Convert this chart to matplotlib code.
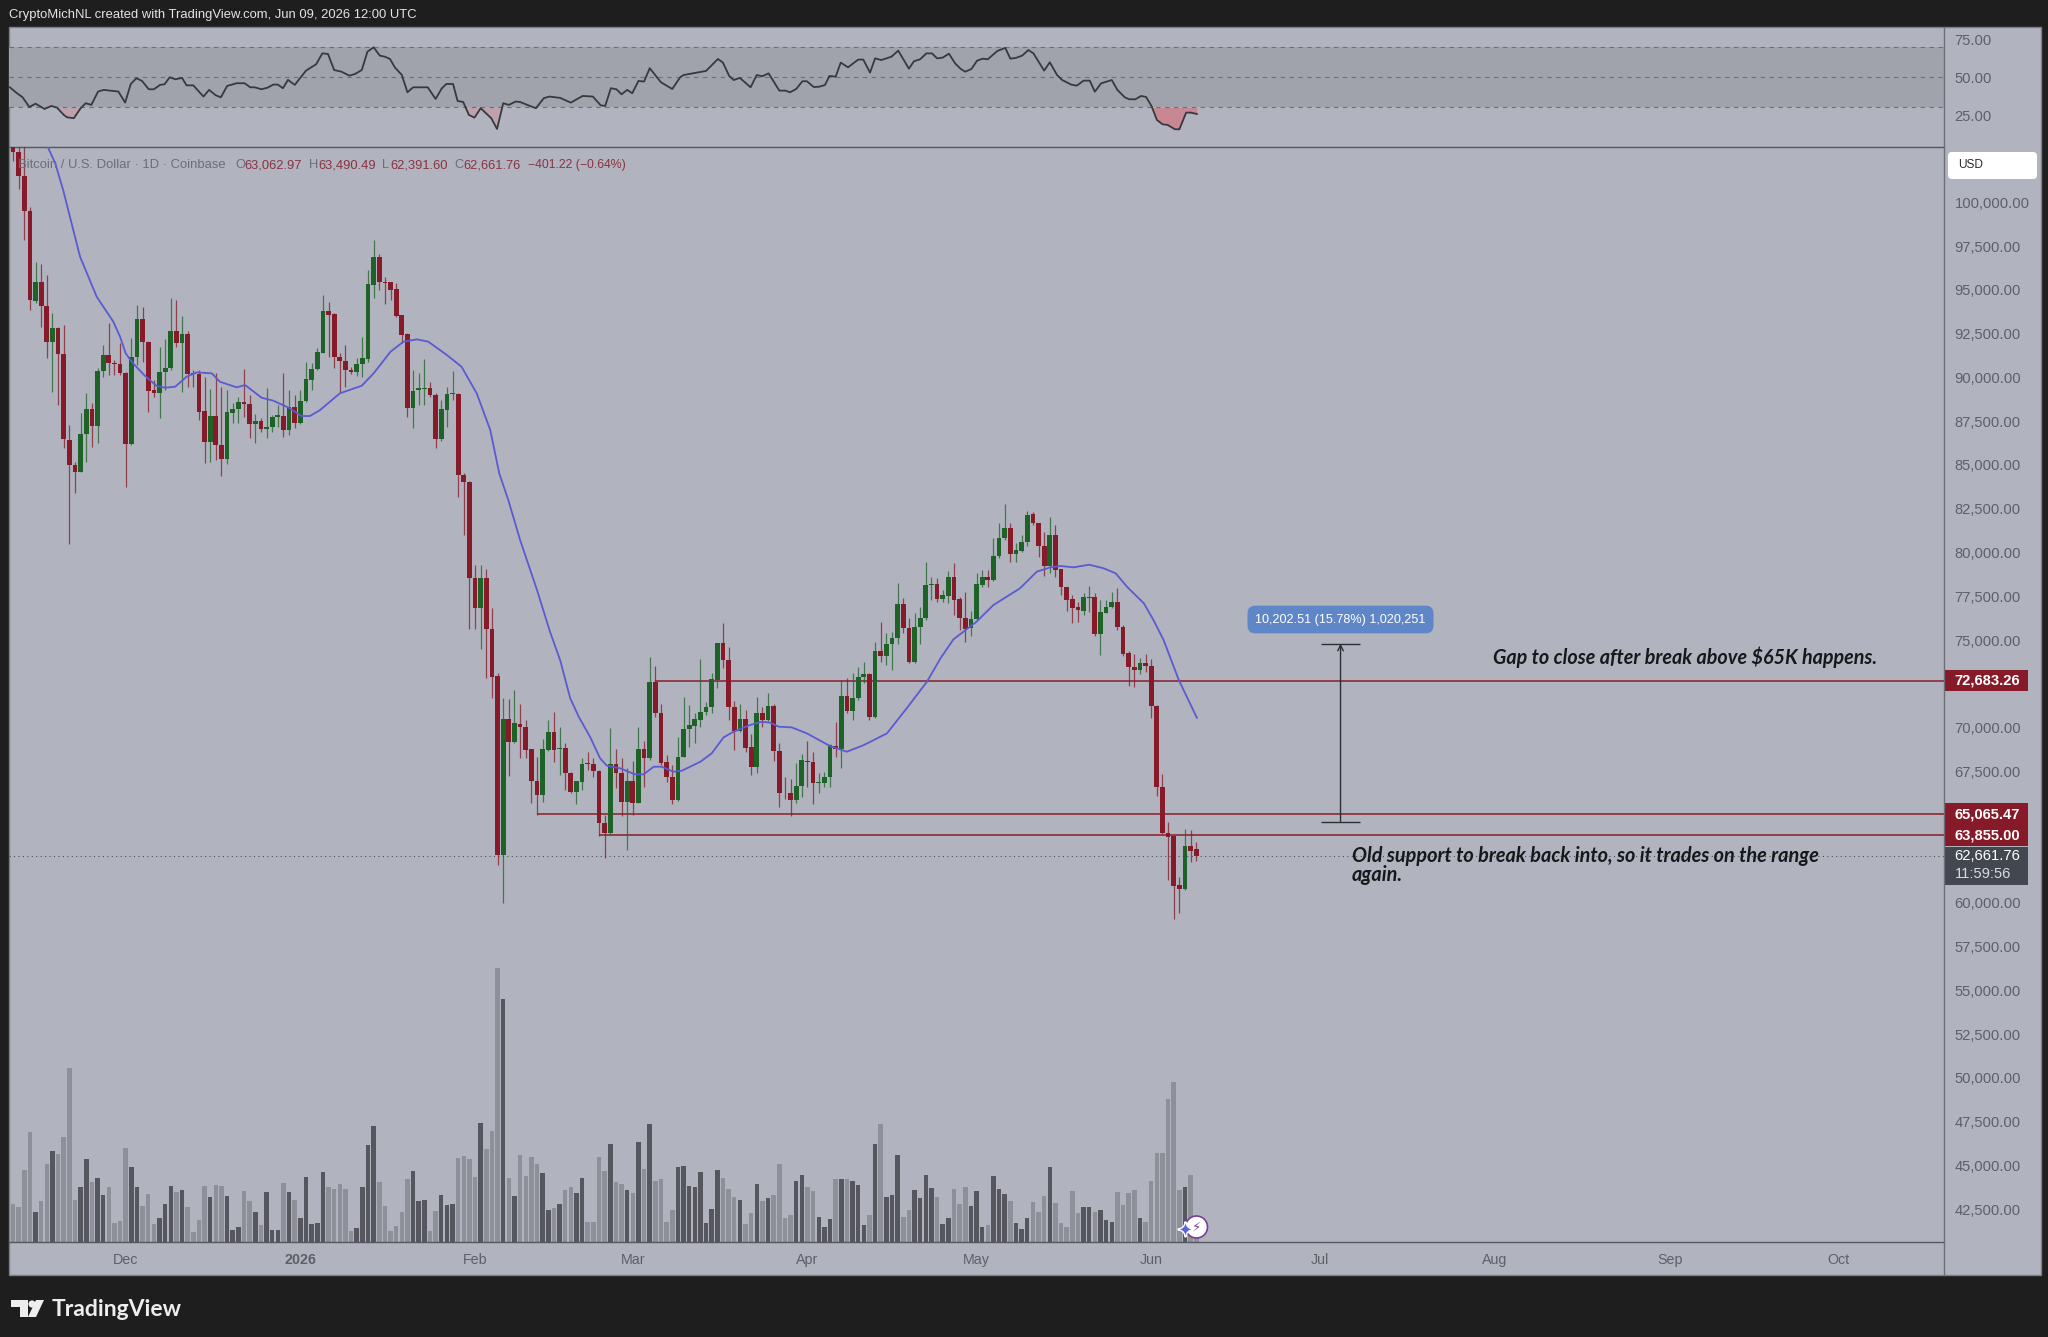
import matplotlib
matplotlib.use("Agg")
import matplotlib.pyplot as plt
import matplotlib.patheffects as pe
from matplotlib.patches import Rectangle, Circle, Polygon, FancyBboxPatch
from matplotlib.lines import Line2D
from matplotlib.ticker import FixedLocator, FuncFormatter
import numpy as np

W, H = 2048, 1337
plt.rcParams['font.family'] = ['Liberation Sans', 'DejaVu Sans']

# candles, BTC/USD daily, day 0 = Nov 11 2025, day 210 = Jun 9 2026
opens = [103180,102890,101500,99503,94382,95429,94096,92002,92839,91335,
    86423,84995,84614,86766,88174,87223,90383,91259,90802,90745,
    90269,86175,91183,93353,92040,89279,89127,90307,90535,92649,
    91944,92477,90269,90174,88079,86290,87794,86137,85338,87984,
    88213,88574,88460,87337,87527,87070,87165,87756,87794,86994,
    88289,87413,88670,89850,90459,91411,93772,93620,91183,90916,
    90421,90307,90764,91069,95295,96876,95467,95429,95029,93544,
    92458,88232,89279,89355,89374,89012,86461,88136,89031,89069,
    84423,84005,78562,76810,78562,75610,72945,62720,70470,69156,
    70203,70051,68756,66966,66148,68718,69727,68756,68813,67423,
    66338,66909,67956,67918,67537,64567,63996,67918,67423,65767,
    66947,65710,68756,68242,72621,70812,68033,67195,65862,68337,
    69898,70089,70432,70889,71155,72716,74849,73859,71155,69822,
    70470,68870,67728,70812,70432,71231,68680,66281,66281,65862,
    66662,68109,68033,66814,66814,67195,68947,68756,71803,70965,
    71688,72907,73040,70622,74392,74106,74773,75097,77038,75668,
    73726,75763,76239,78124,78200,77343,77533,78618,77324,76277,
    75667,76200,78142,78618,78447,79780,80808,81379,79913,80084,
    80618,82179,81665,80389,79228,80998,79037,78009,77324,76886,
    76676,77400,77476,75344,76562,76886,77190,75762,74239,73459,
    73287,73687,73535,71250,66604,63958,63805,60988,60759,63253,
    63062.97]
closes = [102890,101500,99522,94420,95429,94096,92002,92839,91335,86461,
    84995,84614,86766,88174,87223,90383,91259,90802,90745,90269,
    86175,91183,93353,92002,89241,89127,90307,90535,92649,91944,
    92477,90174,90174,88041,86290,87794,86137,85338,88003,88213,
    88574,88460,87337,87489,87070,87184,87756,87832,86994,88289,
    87413,88670,89888,90497,91430,93772,93562,91145,90916,90402,
    90326,90745,91088,95334,96876,95448,95410,94991,93525,92420,
    88232,89241,89393,89412,88993,86461,88174,89050,89088,84423,
    84005,78562,76810,78562,75610,72907,62720,70470,69194,70241,
    70051,68718,66966,66148,68756,69727,68718,68813,67385,66338,
    66947,67918,67899,67537,64567,63996,67918,67385,65767,66947,
    65710,68756,68242,72621,70812,67994,67195,65862,68337,69898,
    70127,70470,70889,71193,72754,74849,73859,71155,69822,70470,
    68851,67728,70812,70432,71231,68680,66243,66243,65862,66662,
    68147,68013,66814,66871,67195,69004,68756,71803,70965,71688,
    72907,73040,70584,74392,74106,74773,75116,77038,75668,73726,
    75763,76277,78143,78181,77324,77571,78618,77286,76238,75629,
    76200,78180,78618,78447,79799,80808,81379,79913,80123,80618,
    82141,81665,80389,79228,80998,79000,78009,77286,76848,76695,
    77438,77476,75344,76600,76905,77190,75762,74182,73440,73287,
    73706,73516,71250,66585,63958,63729,60969,60759,63253,62968,
    62661.76]
highs = [103600,103600,103300,99751,96609,96476,95848,93658,92896,92992,
    87280,85185,87984,89088,88517,90516,91849,93087,90992,91944,
    90326,92230,94134,94039,92097,89850,91716,92173,94553,94420,
    93525,92668,90421,90421,90040,89317,90231,89431,89279,88517,
    88898,90459,88993,87889,87660,89374,87851,88422,90231,89279,
    88993,89279,90859,90802,91658,94705,94286,93658,91373,91849,
    90574,91088,92287,96134,97847,97047,95752,95467,95372,93562,
    92516,90421,90231,91030,89755,89088,88708,89469,90383,89088,
    84519,84100,79285,79285,79057,76810,73097,71669,71612,72145,
    71327,70432,68756,68337,69327,70432,70870,70051,69099,67480,
    66947,68242,68623,68242,67576,65005,69956,68756,68242,67709,
    68109,70051,69251,74011,73535,71346,68432,67861,69441,71726,
    71288,70812,73897,71479,73135,74849,75953,74620,71517,71346,
    71003,69632,71764,71193,71993,71346,69099,67157,67042,67956,
    68490,69251,68623,67385,67480,69061,70336,72716,72812,73097,
    73478,73725,73097,74906,76048,75382,75477,78276,77381,76239,
    76524,76867,79438,78619,78524,77857,78961,79380,77476,77762,
    76676,78847,79000,79000,80808,81703,82769,81665,80522,81000,
    82369,82331,81703,81189,82008,81570,79075,78047,77571,77190,
    77666,78085,77704,77286,77286,77762,77990,75858,74392,74201,
    73954,74201,73897,71288,67347,64624,63862,61482,64186,64148,
    63490.49]
lows = [102378,100741,97847,93848,94229,92896,91126,89184,88422,85947,
    80482,83376,84610,85147,86042,86232,90040,90136,90136,90136,
    83757,86137,90707,90897,88041,88898,87660,89279,90421,91754,
    89184,89431,89469,87565,85090,85147,85280,84367,85033,87375,
    87413,87756,86518,86270,86899,86518,86899,87184,86614,86708,
    87089,87337,88612,89279,90421,91373,91183,90516,89184,89469,
    90193,90078,90040,90859,94515,94991,94191,94420,93468,91944,
    87756,87127,88422,88422,88898,85947,86385,87184,88708,83186,
    80996,75610,75610,74487,72850,71707,62150,59998,67252,69099,
    68242,68242,65710,65005,65767,68680,68052,67290,66433,66243,
    65633,66433,67576,67157,63806,62568,63901,66528,64948,63006,
    65005,65672,66624,68147,70622,67861,66909,65633,65805,68299,
    68908,69137,70051,70717,70812,72240,73383,70432,68718,69765,
    68585,67290,67385,70051,70394,68109,65481,65900,64948,65710,
    66052,66624,65633,66243,66586,66586,68337,67671,70812,70432,
    71574,72526,70432,70527,73764,73573,73288,74773,75382,73707,
    73707,74773,76144,77286,77191,77190,77095,76429,75572,74868,
    75248,76143,78047,78047,78390,79666,80713,79437,79475,80046,
    80370,81570,79761,78656,78809,78580,77571,76657,75953,76048,
    76429,76619,75248,74144,76524,76810,75572,74087,72392,72335,
    73059,73192,70526,66090,63920,61292,59045,59426,60721,62340,
    62391.60]

# volume, estimated (units only relative to each other)
volume = [113,105,215,330,90,122,232,272,263,315,520,125,165,248,179,191,139,163,55,62,
    280,223,165,107,142,53,70,113,168,150,154,105,29,64,168,133,171,168,137,35,
    45,151,122,88,50,148,36,36,177,148,125,70,194,53,55,209,165,159,174,157,
    32,41,165,289,348,180,107,32,47,88,188,211,122,125,32,93,139,110,113,252,
    257,248,194,356,278,332,820,727,191,136,260,197,255,232,205,95,102,113,154,165,
    145,191,58,58,255,211,292,179,174,154,146,298,218,353,182,188,59,96,223,226,
    168,165,209,55,99,215,191,157,133,125,53,85,174,122,131,139,232,70,79,183,
    200,165,151,73,44,67,188,188,188,182,171,50,79,292,353,133,139,261,73,96,
    154,131,200,160,133,53,70,157,113,165,107,151,44,50,197,157,142,122,55,38,
    70,119,90,136,223,116,55,44,151,85,105,105,90,96,64,59,148,110,145,154,
    70,59,182,266,266,428,480,154,165,200,30]

# moving average line
ma_days = [6.15,7.5,8.9,10.1,11.9,14.85,17.8,19,20,21.3,23.4,25.5,27,28.8,30.8,32.6,35.3,36.7,39.7,41.2,
    44.1,46.2,48.9,51.2,52.7,54.5,58,61.9,64,67,69.3,71.7,73.7,77,79.6,82.3,84.7,86.3,
    87.9,90,93,95.3,97.1,98.9,100.4,102.4,104.2,105.4,107.8,110.4,111.9,113.7,115.1,117.2,118.7,122,124,126.1,
    127.9,130.8,132.9,134.4,135.9,138.2,140.9,145,148,151,155.1,158.6,162.2,164.6,166.9,171,174,178.7,181.7,184.1,
    185.9,188.2,191,193.6,195.7,197.7,200.7,202.4,204.2,206.9,210.1]
ma_vals = [103178,102226,100703,99180,96895,94610,93182,92325,91373,90802,90097,89507,89412,89469,90040,90288,90231,89755,89431,89564,
    88841,88670,88270,87794,87794,88136,89088,89526,90231,91468,92040,92173,92040,91278,90612,89088,86994,84519,
    82998,80713,77857,75477,73859,71669,70622,69480,68242,67823,67671,67328,67328,67766,67766,67480,67537,68052,68528,69441,
    69765,70146,70336,70279,70051,70013,69670,68947,68623,69004,69670,71098,72621,73954,75039,76048,77000,77952,78904,79152,
    79228,79152,79304,79094,78809,78047,77095,76143,75001,72716,70564]

# RSI pane
rsi_days = [-0.55,0.5,1.7,2.9,4,5.6,6.8,7.8,9,9.6,10.8,12,12.9,13.9,15.1,16.1,18.7,19.9,20.9,21.9,
    22.9,24.1,25,26.1,26.9,27.8,28.8,30,30.8,32,33.8,34.8,36,36.9,38,39.7,41.1,42.1,42.9,44.1,
    45.2,46.2,47,47.9,48.8,50,52,53.8,54.9,55.9,57,58.3,59.7,60.7,61.9,62.9,64,65.1,66,66.9,
    67.8,69,70,71,73.6,75,76.1,76.9,78.1,78.9,79.9,80.9,81.9,83,84.9,85.9,87,88,89.2,90,
    91.6,92.8,94.2,95.2,97.1,99,101.1,102.9,104.3,105.1,106.1,107.1,108,109,109.9,111,112,113,115,117,
    118.4,119,123,125.1,126,127.1,127.9,129,130.9,132,133,134.1,136,137.1,137.9,139,140.1,140.9,142.1,143.1,
    144.1,144.9,146,146.9,148.2,150,150.9,152.1,153,154.1,155.9,157.1,159,159.9,161,162.1,163.1,164,165,166.1,
    167.2,168.2,169,170.1,171.1,172.1,173,174.7,176.1,177,178,179.1,180.2,181.1,183,184,185.3,186.2,187.8,188.8,
    190,191.1,192,193.1,195,196,197.3,198.1,199.2,200.2,201.1,202.1,203,204,204.9,206.2,207,208.2,209,210.1]
rsi_vals = [43.3,40,36.7,30.3,32.5,29,31,29.9,25.1,23.5,22.9,29.5,32.8,31.7,40.5,41.6,40.5,33.2,45.5,49.3,
    47.5,42,42,44.9,45.3,49.9,48.6,49.5,44.6,44.6,37.2,41.6,38,36.7,44.2,46,46,43.3,43.3,42,
    43.1,45.1,45.1,42.7,48.2,44.9,54.3,58.5,65.7,65.3,54.7,53.6,51,52.1,54.7,66.8,69.7,64.2,63.5,62,
    56.3,51.5,40,43.3,43.3,35.6,42.6,45.5,45.5,34.3,33.6,25.1,23.3,29.5,22.8,15.8,32.8,31.7,33.9,33.6,
    31.2,29.5,36.1,37.2,36.3,33.2,37.6,37.2,31.4,31,42.7,42,38.7,41.6,39.4,47.5,47.1,55.9,46.6,42.2,
    49.9,51.4,54.1,62,59.6,50.8,48.1,49.5,43.3,51.4,50.6,52.5,41.1,41.1,40,42.2,47.3,47.3,43.5,43.7,
    44.8,50.8,50.3,59.6,56.5,61.6,61.6,53,62.4,61.3,63.5,67.5,55.6,60.5,61.8,65.7,65.7,62.4,62.9,65.5,
    59.1,55.4,53.6,55.4,60.9,62.2,61.8,67.3,69.3,62.2,62.7,64.2,67.9,65.7,54.3,59.8,51.4,48.1,45.1,44.4,
    47.7,47.7,40.4,45.9,48.1,41.6,36.7,35.4,35.4,37.6,36.9,30.6,21.8,18.9,18.5,15.6,15.6,26.6,26.6,25.7]
rsi_ticks = [25, 50, 75]

# horizontal levels and where they start
level_prices = [72683.26, 65065.47, 63855.00]
level_starts = [114, 93, 104]
last_price = 62661.76
measure_day = 235.6
measure_low = 64590
measure_high = 74793

# 72,500 65,000 and 62,500 sit under the price tags
price_ticks = [42500, 45000, 47500, 50000, 52500, 55000, 57500, 60000, 67500, 70000,
               75000, 77500, 80000, 82500, 85000, 87500, 90000, 92500, 95000, 97500, 100000]
month_days = [20, 51, 82, 110, 141, 171, 202, 232, 263, 294, 324]
month_labels = ['Dec', '2026', 'Feb', 'Mar', 'Apr', 'May', 'Jun', 'Jul', 'Aug', 'Sep', 'Oct']

DARK = '#1e1e1e'
PANE = '#b1b4be'
BAND = '#a0a3ac'
AXIS = '#6c6f77'
TXT = '#5e6068'
RED = '#861a28'
GREEN = '#1d6227'
LEVEL = '#8f3540'


def rect(x0, y0, x1, y1):
    return [x0 / W, 1 - y1 / H, (x1 - x0) / W, (y1 - y0) / H]


def label(x, y, s, **kw):
    kw.setdefault('va', 'center')
    kw.setdefault('fontsize', 9.4)
    fig.text(x / W, 1 - y / H, s, **kw)


fig = plt.figure(figsize=(W / 100, H / 100), dpi=100, facecolor=DARK)
r = rect(9, 27, 2041, 1275)
fig.add_artist(Rectangle((r[0], r[1]), r[2], r[3], transform=fig.transFigure,
                         facecolor=PANE, edgecolor='#7c7e85', linewidth=1, zorder=-5))

xlim = (-0.71, 342.7)

# RSI
ax_rsi = fig.add_axes(rect(9, 27, 1944, 146.7), facecolor='none')
ax_rsi.set_xlim(xlim)
ax_rsi.set_ylim(4.1, 83.1)
ax_rsi.axhspan(30, 70, color=BAND, linewidth=0)
for lv in [70, 50, 30]:
    ax_rsi.axhline(lv, color='#6e7076', linestyle=(0, (4, 4)), linewidth=0.8)
d = np.array(rsi_days)
v = np.array(rsi_vals)
ax_rsi.fill_between(d, v, 30, where=(v < 30) & (d < 100), interpolate=True, color='#d4858f', alpha=0.4, linewidth=0)
ax_rsi.fill_between(d, v, 30, where=(v < 30) & (d > 100), interpolate=True, color='#cf7c88', alpha=0.8, linewidth=0)
ax_rsi.plot(d, v, color='#37393f', linewidth=1.3)
ax_rsi.set_xticks([])
ax_rsi.yaxis.tick_right()
ax_rsi.set_yticks(rsi_ticks)
ax_rsi.yaxis.set_major_formatter(FuncFormatter(lambda y, _: f'{y:.2f}'))
ax_rsi.tick_params(axis='y', length=0, pad=7.5, labelsize=10.6, labelcolor=TXT)
for s in ax_rsi.spines.values():
    s.set_visible(False)

# volume under the candles
ax_vol = fig.add_axes(rect(9, 146.7, 1944, 1241.7), facecolor='none', zorder=1)
ax_vol.set_xlim(xlim)
ax_vol.set_ylim(0, 3285)
ax_vol.axis('off')
days = np.arange(len(opens))
o = np.array(opens)
c = np.array(closes)
up = c >= o
ax_vol.bar(days, volume, width=0.8, color=np.where(up, '#55565e', '#8d8f99'), linewidth=0)

# main pane
ax = fig.add_axes(rect(9, 146.7, 1944, 1241.7), facecolor='none', zorder=2)
ax.set_xlim(xlim)
ax.set_ylim(40640, 103175)
ax.axhline(last_price, color='#4e5057', linestyle=(0, (1, 3)), linewidth=0.8, zorder=1)
for p, st in zip(level_prices, level_starts):
    ax.hlines(p, st, xlim[1], color=LEVEL, linewidth=1.3, zorder=2)
colors = np.where(up, GREEN, RED)
ax.vlines(days, lows, highs, color=colors, linewidth=0.9, alpha=0.75, zorder=3)
ax.bar(days, np.abs(c - o), bottom=np.minimum(o, c), width=0.84, color=colors, linewidth=0, zorder=4)
ax.plot(ma_days, ma_vals, color='#5a5ad2', linewidth=1.3, zorder=5)

# measure tool
ax.annotate('', xy=(measure_day, measure_high), xytext=(measure_day, measure_low),
            arrowprops=dict(arrowstyle='->', color='#2c2e33', lw=1, shrinkA=0, shrinkB=0), zorder=6)
ax.hlines([measure_low, measure_high], measure_day - 3.5, measure_day + 3.5, color='#2c2e33', linewidth=1, zorder=6)
ax.text(measure_day, 76173, '10,202.51 (15.78%) 1,020,251', color='white', fontsize=9.1, ha='center', va='center',
        bbox=dict(boxstyle='round,pad=0.62', facecolor='#5f86c6', edgecolor='none'), zorder=7)

ax.text(262.6, 74032, 'Gap to close after break above $65K happens.', family='Lato', style='italic', fontweight='bold',
        fontsize=14.2, color='#17181b', ha='left', va='center', zorder=7)
ax.text(237.6, 62140, 'Old support to break back into, so it trades on the range\nagain.', family='Lato', style='italic',
        fontweight='bold', fontsize=14.3, color='#17181b', ha='left', va='center', linespacing=0.95, zorder=7)

# axes
ax.xaxis.set_major_locator(FixedLocator(month_days))
ax.set_xticklabels(month_labels)
ax.tick_params(axis='x', length=0, pad=8, labelsize=10.3, labelcolor=TXT)
ax.get_xticklabels()[1].set_fontweight('bold')
ax.yaxis.tick_right()
ax.set_yticks(price_ticks)
ax.yaxis.set_major_formatter(FuncFormatter(lambda y, _: f'{y:,.2f}'))
ax.tick_params(axis='y', length=0, pad=7.5, labelsize=10.6, labelcolor=TXT)
for name, s in ax.spines.items():
    s.set_visible(name in ('top', 'bottom'))
    s.set_color('#55575e')
    s.set_linewidth(1)

# price tags on the axis
box_w = 84 / 1935
tags = [(72683.26, 1233, RED), (65065.47, 1233, RED), (63855.00, 1200, RED)]
for p, h, col in tags:
    ax.add_patch(Rectangle((1, p - h / 2), box_w, h, transform=ax.get_yaxis_transform(), clip_on=False,
                           facecolor=col, edgecolor='none', zorder=8))
    ax.text(1.0055, p, f'{p:,.2f}', transform=ax.get_yaxis_transform(), color='white', fontsize=10.6,
            fontweight='bold', va='center', ha='left', clip_on=False, zorder=9)
ax.add_patch(Rectangle((1, last_price - 1645), box_w, 2181, transform=ax.get_yaxis_transform(), clip_on=False,
                       facecolor='#434750', edgecolor='none', zorder=8))
ax.text(1.0055, last_price, f'{last_price:,.2f}', transform=ax.get_yaxis_transform(), color='white', fontsize=10.6,
        va='center', ha='left', clip_on=False, zorder=9)
ax.text(1.0055, last_price - 1000, '11:59:56', transform=ax.get_yaxis_transform(), color='#d8dade', fontsize=10.6,
        va='center', ha='left', clip_on=False, zorder=9)

# chrome
fig.add_artist(Line2D([1944 / W, 1944 / W], [1 - 27 / H, 1 - 1275 / H], color='#6c6f77', linewidth=1, zorder=3))
fig.add_artist(FancyBboxPatch((1952, H - 175), 81, 19, boxstyle='round,pad=4,rounding_size=4', transform=None,
                              facecolor='white', edgecolor='none', zorder=3))
label(1958, 165.5, 'USD', color='#2a2b30', fontsize=8.6, zorder=4)

label(9, 15, 'CryptoMichNL created with TradingView.com, Jun 09, 2026 12:00 UTC', color='#e4e4e4', zorder=4)
label(18, 165, 'Bitcoin / U.S. Dollar · 1D · Coinbase', color='#6b6e76', zorder=4)
for x0, letter, x1, val in [(235, 'O', 244, '63,062.97'), (309, 'H', 318, '63,490.49'), (382, 'L', 390, '62,391.60'), (454, 'C', 463, '62,661.76')]:
    label(x0, 165, letter, color='#6b6e76', fontsize=9.3, zorder=4)
    label(x1, 165, val, color='#8a3242', fontsize=9.3, zorder=4)
label(528, 165, '−401.22 (−0.64%)', color='#8a3242', fontsize=8.8, zorder=4)

# small badge over the last volume bar
fig.add_artist(Circle((1196.5, H - 1227), 11, transform=None, facecolor='white', edgecolor='#7a3b9c', linewidth=1.2, zorder=6))
label(1196.5, 1227, '⚡', color='#7a3b9c', fontsize=9.5, family='DejaVu Sans', ha='center', zorder=7)
label(1185.5, 1231, '✦', color='#5a66d8', fontsize=13, family='DejaVu Sans', ha='center', zorder=7,
      path_effects=[pe.withStroke(linewidth=2, foreground='white')])

# TradingView logo
for pts in ([(11, 1300), (28, 1300), (28, 1317), (20, 1317), (20, 1307), (11, 1307)],
            [(36, 1300), (44, 1300), (36, 1317), (28, 1317)]):
    fig.add_artist(Polygon([(x / W, 1 - y / H) for x, y in pts], transform=fig.transFigure, facecolor='#eeeeee', edgecolor='none', zorder=4))
fig.add_artist(Circle((32, H - 1304), 3.6, transform=None, facecolor='#eeeeee', edgecolor='none', zorder=4))
label(52, 1309, 'TradingView', family='Lato', fontweight='bold', fontsize=16.5, color='#eeeeee', zorder=4)

fig.savefig('out.png', dpi=100, facecolor=DARK)
